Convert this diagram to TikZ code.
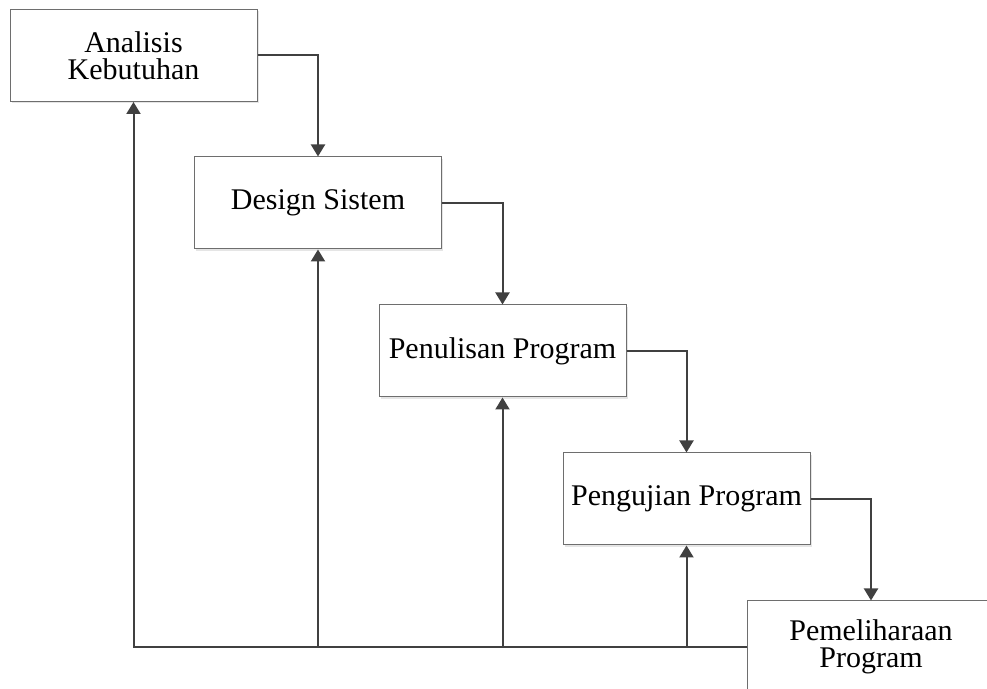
\documentclass[tikz,border=0pt]{standalone}
\usepackage{fontspec}
\setmainfont{Liberation Serif}
\usepackage{tikz}
\usetikzlibrary{arrows.meta, positioning, calc, shadows}
\definecolor{garis}{RGB}{64,64,64}
\definecolor{tepi}{RGB}{110,110,110}
\tikzset{
  tahap/.style={rectangle, draw=tepi, fill=white, line width=0.5pt,
                minimum width=123.5pt, minimum height=46pt, inner sep=0pt,
                align=center, font=\fontsize{15}{13.5}\selectfont,
                drop shadow={shadow xshift=0.8pt, shadow yshift=-0.8pt, fill=black!20}},
  alur/.style={-{Triangle[length=6pt, width=7pt]}, line width=1pt, garis},
  balik/.style={-{Triangle[length=6pt, width=7pt]}, line width=1pt, garis}
}

\begin{document}
\begin{tikzpicture}[x=0.5pt, y=0.5pt]
    \useasboundingbox (0,0) rectangle (987,689);
    \clip (0,0) rectangle (987,689);
    \node[tahap] (ak) at (133.5,633.5) {Analisis\\Kebutuhan};
    \node[tahap] (ds) at (318,486)     {Design Sistem};
    \node[tahap] (ps) at (502.5,338)   {Penulisan Program};
    \node[tahap] (uj) at (686.5,190)   {Pengujian Program};
    \node[tahap] (pp) at (871,42)      {Pemeliharaan\\Program};
    % alur maju
    \draw[alur] (ak.east) -| (ds.north);
    \draw[alur] (ds.east) -| (ps.north);
    \draw[alur] (ps.east) -| (uj.north);
    \draw[alur] (uj.east) -| (pp.north);
    % alur balik
    \draw[balik] (pp.west) -| (ak.south);
    \draw[balik] (pp.west) -| (ds.south);
    \draw[balik] (pp.west) -| (ps.south);
    \draw[balik] (pp.west) -| (uj.south);
  \end{tikzpicture}
\end{document}
